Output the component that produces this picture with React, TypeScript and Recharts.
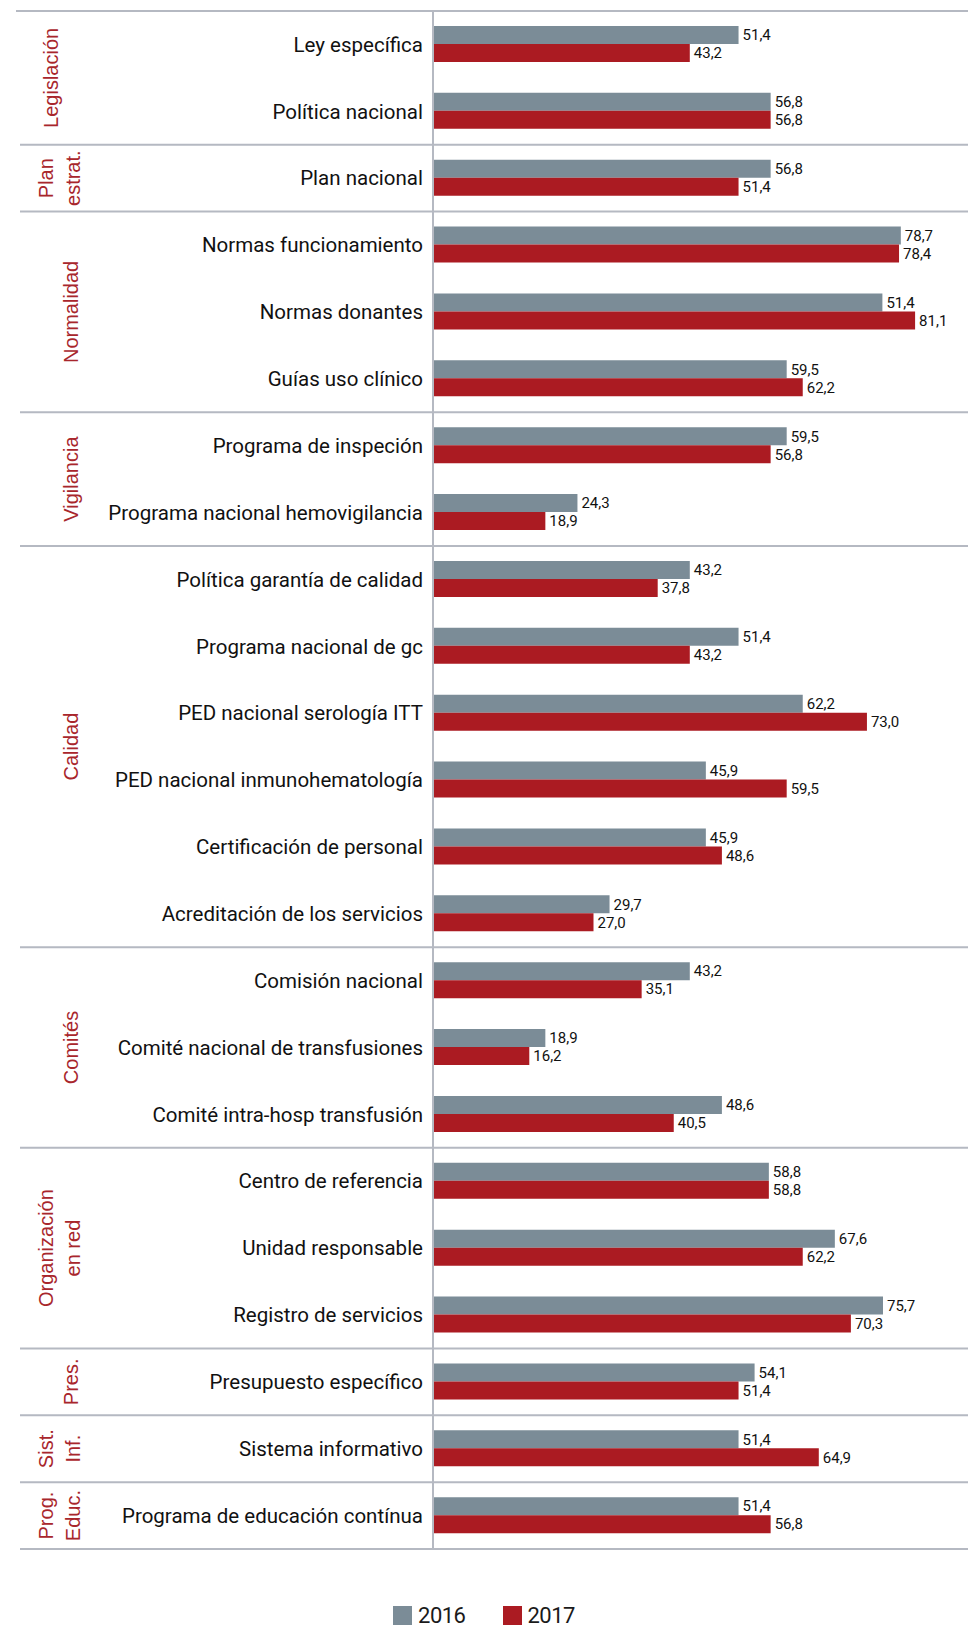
import { Bar, BarChart, LabelList, Legend, ReferenceArea, XAxis, YAxis } from 'recharts'

const CATEGORIES = [
  'Ley específica',
  'Política nacional',
  'Plan nacional',
  'Normas funcionamiento',
  'Normas donantes',
  'Guías uso clínico',
  'Programa de inspeción',
  'Programa nacional hemovigilancia',
  'Política garantía de calidad',
  'Programa nacional de gc',
  'PED nacional serología ITT',
  'PED nacional inmunohematología',
  'Certificación de personal',
  'Acreditación de los servicios',
  'Comisión nacional',
  'Comité nacional de transfusiones',
  'Comité intra-hosp transfusión',
  'Centro de referencia',
  'Unidad responsable',
  'Registro de servicios',
  'Presupuesto específico',
  'Sistema informativo',
  'Programa de educación contínua',
]

// bar lengths as drawn in the original (two bars do not match their printed label)
const VALUES_2016 = [
  51.4, 56.8, 56.8, 78.7, 75.6, 59.5, 59.5, 24.3, 43.2, 51.4, 62.2, 45.9,
  45.9, 29.7, 43.2, 18.9, 48.6, 56.5, 67.6, 75.7, 54.1, 51.4, 51.4,
]
const VALUES_2017 = [
  43.2, 56.8, 51.4, 78.4, 81.1, 62.2, 56.8, 18.9, 37.8, 43.2, 73.0, 59.5,
  48.6, 27.0, 35.1, 16.2, 40.5, 56.5, 62.2, 70.3, 51.4, 64.9, 56.8,
]

const LABELS_2016 = [
  '51,4', '56,8', '56,8', '78,7', '51,4', '59,5', '59,5', '24,3', '43,2', '51,4', '62,2', '45,9',
  '45,9', '29,7', '43,2', '18,9', '48,6', '58,8', '67,6', '75,7', '54,1', '51,4', '51,4',
]
const LABELS_2017 = [
  '43,2', '56,8', '51,4', '78,4', '81,1', '62,2', '56,8', '18,9', '37,8', '43,2', '73,0', '59,5',
  '48,6', '27,0', '35,1', '16,2', '40,5', '58,8', '62,2', '70,3', '51,4', '64,9', '56,8',
]

const GROUP_TITLES = [
  ['Legislación'],
  ['Plan', 'estrat.'],
  ['Normalidad'],
  ['Vigilancia'],
  ['Calidad'],
  ['Comités'],
  ['Organización', 'en red'],
  ['Pres.'],
  ['Sist.', 'Inf.'],
  ['Prog.', 'Educ.'],
]
const GROUP_SIZES = [2, 1, 3, 2, 6, 3, 3, 1, 1, 1]

const SERIES = [
  { key: 'v2016', label: 'l2016', name: '2016', color: '#7b8c97' },
  { key: 'v2017', label: 'l2017', name: '2017', color: '#ab1b22' },
]

const RULE = '#b5b9c2'
const GROUP_RED = '#a8262c'
const NARROW = 'Roboto, "Liberation Sans Narrow", sans-serif'
const SANS = '"Liberation Sans", Arial, sans-serif'

const data = CATEGORIES.map((name, i) => ({
  name,
  v2016: VALUES_2016[i],
  v2017: VALUES_2017[i],
  l2016: LABELS_2016[i],
  l2017: LABELS_2017[i],
}))

let cursor = 0
const groups = GROUP_TITLES.map((title, i) => {
  const first = CATEGORIES[cursor]
  const last = CATEGORIES[cursor + GROUP_SIZES[i] - 1]
  cursor += GROUP_SIZES[i]
  return { title, first, last }
})

function GroupBand(props: any) {
  const { x, y, width, height, title, isFirst, isLast } = props
  const cy = y + height / 2
  const base = title.length > 1 ? 80 : title[0] === 'Legislación' ? 58 : 78

  return (
    <g>
      <line x1={isFirst ? 16 : 20} x2={x + width} y1={y} y2={y} stroke={RULE} strokeWidth={2} />
      {isLast && (
        <line x1={20} x2={x + width} y1={y + height} y2={y + height} stroke={RULE} strokeWidth={2} />
      )}
      {title.map((t: string, i: number) => {
        const bx = base - (title.length - 1 - i) * 27
        return (
          <text
            key={t}
            x={bx}
            y={cy}
            transform={`rotate(-90 ${bx} ${cy})`}
            textAnchor="middle"
            fill={GROUP_RED}
            fontSize={20}
            fontFamily={SANS}
          >
            {t}
          </text>
        )
      })}
    </g>
  )
}

function YearLegend() {
  return (
    <div
      style={{
        height: 79,
        paddingTop: 56,
        boxSizing: 'border-box',
        display: 'flex',
        justifyContent: 'center',
        fontFamily: NARROW,
        fontSize: 22,
        letterSpacing: -0.5,
        lineHeight: '22px',
        color: '#1a1a1a',
      }}
    >
      {SERIES.map((s, i) => (
        <div key={s.name} style={{ display: 'flex', alignItems: 'flex-start', marginLeft: i ? 37 : 0 }}>
          <span style={{ width: 19, height: 19, background: s.color, marginRight: 6, marginTop: 1 }} />
          <span>{s.name}</span>
        </div>
      ))}
    </div>
  )
}

export default function App() {
  return (
    <div
      style={{
        position: 'absolute',
        left: 0,
        top: 0,
        width: 968,
        height: 1628,
        overflow: 'hidden',
        background: '#fff',
      }}
    >
      <BarChart
        data={data}
        layout="vertical"
        width={968}
        height={1628}
        margin={{ top: 11, right: 0, left: 0, bottom: 0 }}
        barCategoryGap={15}
        barGap={0}
      >
        <XAxis type="number" domain={[0, 90]} hide />
        <YAxis
          type="category"
          dataKey="name"
          width={433}
          interval={0}
          tickLine={false}
          tickSize={0}
          tickMargin={10}
          axisLine={{ stroke: RULE, strokeWidth: 2 }}
          tick={{ fill: '#111', fontSize: 20.5, fontFamily: NARROW }}
        />
        {groups.map((g, i) => (
          <ReferenceArea
            key={g.first}
            y1={g.first}
            y2={g.last}
            ifOverflow="visible"
            shape={(p: any) => (
              <GroupBand {...p} title={g.title} isFirst={i === 0} isLast={i === groups.length - 1} />
            )}
          />
        ))}
        {SERIES.map((s) => (
          <Bar key={s.key} dataKey={s.key} name={s.name} fill={s.color} isAnimationActive={false}>
            <LabelList dataKey={s.label} position="right" offset={4} fill="#111" fontSize={15} fontFamily={NARROW} />
          </Bar>
        ))}
        <Legend verticalAlign="bottom" content={<YearLegend />} />
      </BarChart>
    </div>
  )
}
